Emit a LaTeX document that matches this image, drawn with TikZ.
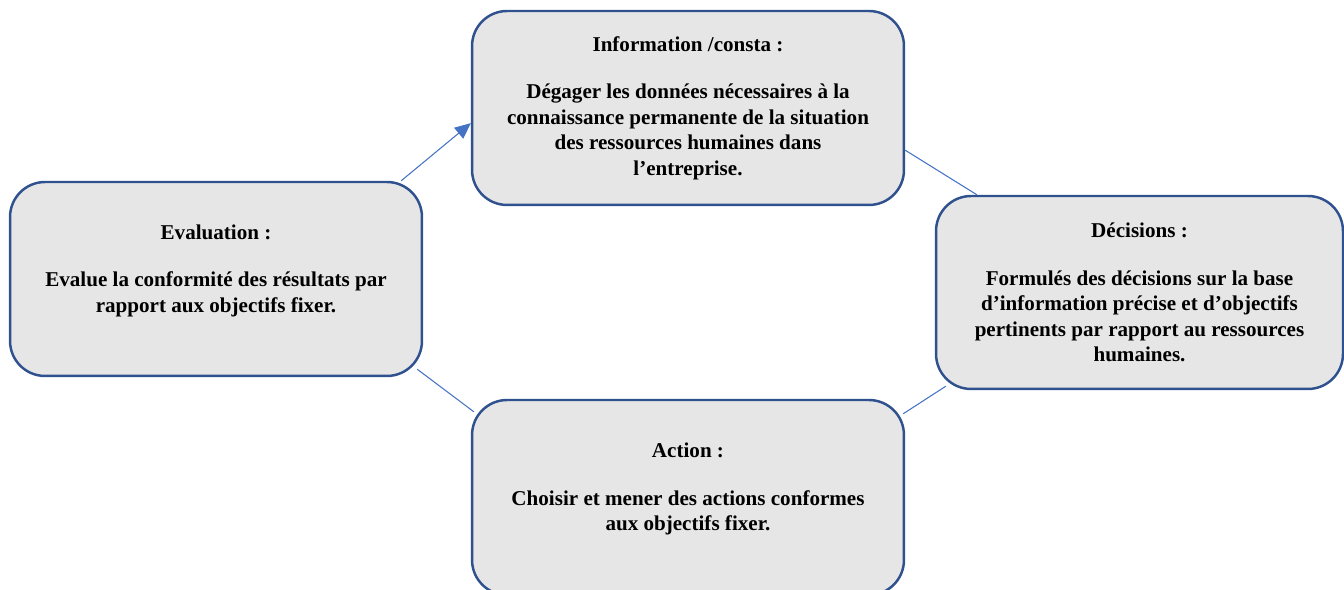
\documentclass[tikz,border=0pt]{standalone}
\usepackage{fontspec}
\setmainfont{Liberation Serif}
\usepackage{tikz}
\usetikzlibrary{arrows.meta}

\definecolor{boxline}{HTML}{2F528F}
\definecolor{boxfill}{HTML}{E7E6E6}
\definecolor{linkline}{HTML}{4472C4}

\begin{document}
\begin{tikzpicture}[
  x=0.02cm, y=0.02cm,
  font=\bfseries\fontsize{12}{14.5}\selectfont,
  box/.style={draw=boxline, fill=boxfill, line width=1.4pt, rounded corners=0.7cm, align=center, inner sep=4pt},
  arr/.style={-{Triangle[length=9pt,width=8pt]}, draw=linkline, line width=0.6pt},
  lnk/.style={draw=linkline, line width=0.6pt}
]
\useasboundingbox (0,0) rectangle (1344,590);
\node[box, minimum width=8.64cm, minimum height=3.88cm] (info) at (688,482)
  {Information /consta :\\[12.5pt]
   Dégager les données nécessaires à la\\
   connaissance permanente de la situation\\
   des ressources humaines dans\\
   l’entreprise.};
\node[box, minimum width=8.24cm, minimum height=3.88cm] (eval) at (216,311)
  {Evaluation :\\[12.5pt]
   Evalue la conformité des résultats par\\
   rapport aux objectifs fixer.\\[-7pt] \strut};
\node[box, minimum width=8.14cm, minimum height=3.86cm] (dec) at (1139.5,297.5)
  {Décisions :\\[12.5pt]
   Formulés des décisions sur la base\\
   d’information précise et d’objectifs\\
   pertinents par rapport au ressources\\
   humaines.};
\node[box, minimum width=8.64cm, minimum height=3.9cm] (act) at (688,92.5)
  {Action :\\[12.5pt]
   Choisir et mener des actions conformes\\
   aux objectifs fixer.\\[-7pt] \strut};
\draw[arr] ([shift={(-22,0)}]eval.north east) -- (info.184.9);
\draw[lnk] (info.-11) -- (dec.149.9);
\draw[lnk] ([shift={(-6,8)}]eval.south east) -- ([shift={(3,-13)}]act.north west);
\draw[lnk] ([shift={(-2,-15)}]act.north east) -- ([shift={(11,4)}]dec.south west);
\end{tikzpicture}
\end{document}
